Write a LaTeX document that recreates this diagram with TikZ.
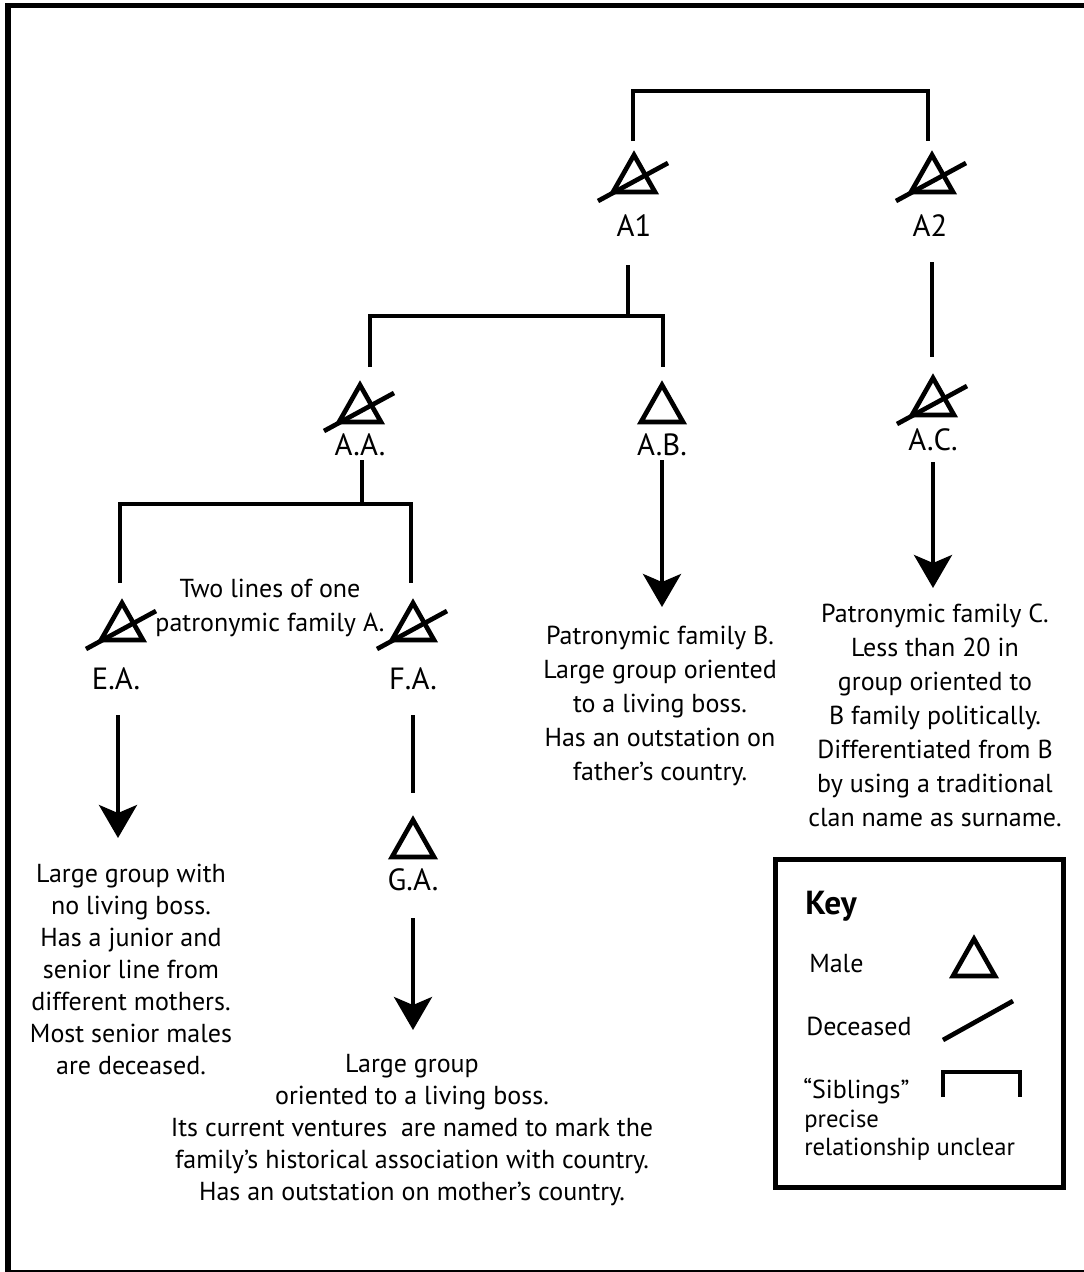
\documentclass[tikz,border=0pt]{standalone}
\usepackage{fontspec}
\setmainfont{PT Sans}
\usetikzlibrary{arrows.meta}
\begin{document}
\begin{tikzpicture}[x=0.75pt,y=-0.75pt,
  conn/.style={line width=3pt},
  sym/.style={line width=3.5pt},
  arrowline/.style={conn,-{Stealth[length=24.75pt,width=28.5pt,inset=6pt]}},
  txt/.style={font=\fontsize{19.5}{24.75}\selectfont,inner sep=0pt,align=center,anchor=north},
  lbl/.style={font=\fontsize{23}{27}\selectfont,inner sep=0pt,anchor=base},
  keytxt/.style={font=\fontsize{19.5}{24}\selectfont,inner sep=0pt,anchor=base west},
  male/.pic={\draw[sym] (0,0) -- (21,37) -- (-21,37) -- cycle;},
  dead/.pic={\draw[sym] (0,0) -- (21,37) -- (-21,37) -- cycle;
             \draw[sym] (-36,46) -- (34,8);},
]
\useasboundingbox (0,0) rectangle (1083,1272);
\fill[white] (0,0) rectangle (1083,1272);
% outer frame (right side runs off the page)
\draw[line width=4.1pt] (8,5.5) rectangle (1100,1273);

% ---- people ----
\pic at (634,155) {dead};  \node[lbl] (A1) at (634,236) {A1};
\pic at (932,155) {dead};  \node[lbl] (A2) at (930,236) {A2};
\pic at (360,385) {dead};  \node[lbl] (AA) at (360,455) {A.A.};
\pic at (662,385) {male};  \node[lbl] (AB) at (662,455) {A.B.};
\pic at (933,378) {dead};  \node[lbl] (AC) at (933,450) {A.C.};
\pic at (122,603) {dead};  \node[lbl] (EA) at (116,689) {E.A.};
\pic at (413,603) {dead};  \node[lbl] (FA) at (413,689) {F.A.};
\pic at (413,820) {male};  \node[lbl] (GA) at (413,890) {G.A.};

% ---- connector end points ----
\coordinate (bA1) at (633,141);  \coordinate (bA2) at (928,141);
\coordinate (topbar) at (780,91);
\coordinate (A1d) at (628,265);  \coordinate (A1j) at (628,316);
\coordinate (bAA) at (370,367);  \coordinate (bAB) at (663,367);
\coordinate (A2d) at (932,262);  \coordinate (A2e) at (932,357);
\coordinate (AAd) at (362,460);  \coordinate (AAj) at (362,504);
\coordinate (bEA) at (120,583);  \coordinate (bFA) at (411,583);
\coordinate (ABd) at (662,460);  \coordinate (ABt) at (662,607);
\coordinate (ACd) at (933,462);  \coordinate (ACt) at (933,588);
\coordinate (EAd) at (118,715);  \coordinate (EAt) at (118,838);
\coordinate (FAd) at (413,715);  \coordinate (FAe) at (413,793);
\coordinate (GAd) at (413,918);  \coordinate (GAt) at (413,1030);

% ---- connectors ----
\draw[conn] (bA1) |- (topbar) -| (bA2);
\draw[conn] (A1d) -- (A1j);
\draw[conn] (bAA) |- (A1j) -| (bAB);
\draw[conn] (A2d) -- (A2e);
\draw[conn] (AAd) -- (AAj);
\draw[conn] (bEA) |- (AAj) -| (bFA);
\draw[arrowline] (ABd) -- (ABt);
\draw[arrowline] (ACd) -- (ACt);
\draw[arrowline] (EAd) -- (EAt);
\draw[conn] (FAd) -- (FAe);
\draw[arrowline] (GAd) -- (GAt);

% ---- descriptions ----
\node[txt,font=\fontsize{19.5}{25.5}\selectfont] (twolines) at (270,579)
  {Two lines of one\\patronymic family A.};
\node[txt,font=\fontsize{19.5}{25.5}\selectfont] (famB) at (660,626)
  {Patronymic family B.\\Large group oriented\\to a living boss.\\Has an outstation on\\father’s country.};
\node[txt,font=\fontsize{19.5}{25.5}\selectfont] (famC) at (935,604)
  {Patronymic family C.\\Less than 20 in\\group oriented to\\B family politically.\\Differentiated from B\\by using a traditional\\clan name as surname.};
\node[txt,font=\fontsize{19.5}{24}\selectfont] (famEA) at (131,864)
  {Large group with\\no living boss.\\Has a junior and\\senior line from\\different mothers.\\Most senior males\\are deceased.};
\node[txt,font=\fontsize{19.5}{24}\selectfont] (famGA) at (412,1054)
  {Large group\\oriented to a living boss.\\Its current ventures~ are named to mark the\\family’s historical association with country.\\Has an outstation on mother’s country.};

% ---- key ----
\node[draw,line width=3.75pt,minimum width=288*0.75pt,minimum height=328*0.75pt,inner sep=0pt] (keybox) at (919,1023) {};
\node[keytxt,font=\bfseries\fontsize{25}{28}\selectfont] (keyhead) at (805,914) {Key};
\node[keytxt] (kmale) at (809,972) {Male};
\pic at (974,939) {male};
\node[keytxt] (kdead) at (806,1035) {Deceased};
\coordinate (ks1) at (943,1040); \coordinate (ks2) at (1013,1001);
\draw[sym] (ks1) -- (ks2);
\node[keytxt] (ksib) at (803,1098) {“Siblings”};
\coordinate (kb1) at (943,1097); \coordinate (kb2) at (1020,1097); \coordinate (kbt) at (980,1072);
\draw[conn] (kb1) |- (kbt) -| (kb2);
\node[keytxt,font=\fontsize{18.5}{22}\selectfont] (kprec) at (804,1127) {precise};
\node[keytxt,font=\fontsize{18.5}{22}\selectfont] (krel) at (804,1155) {relationship unclear};
\end{tikzpicture}
\end{document}
